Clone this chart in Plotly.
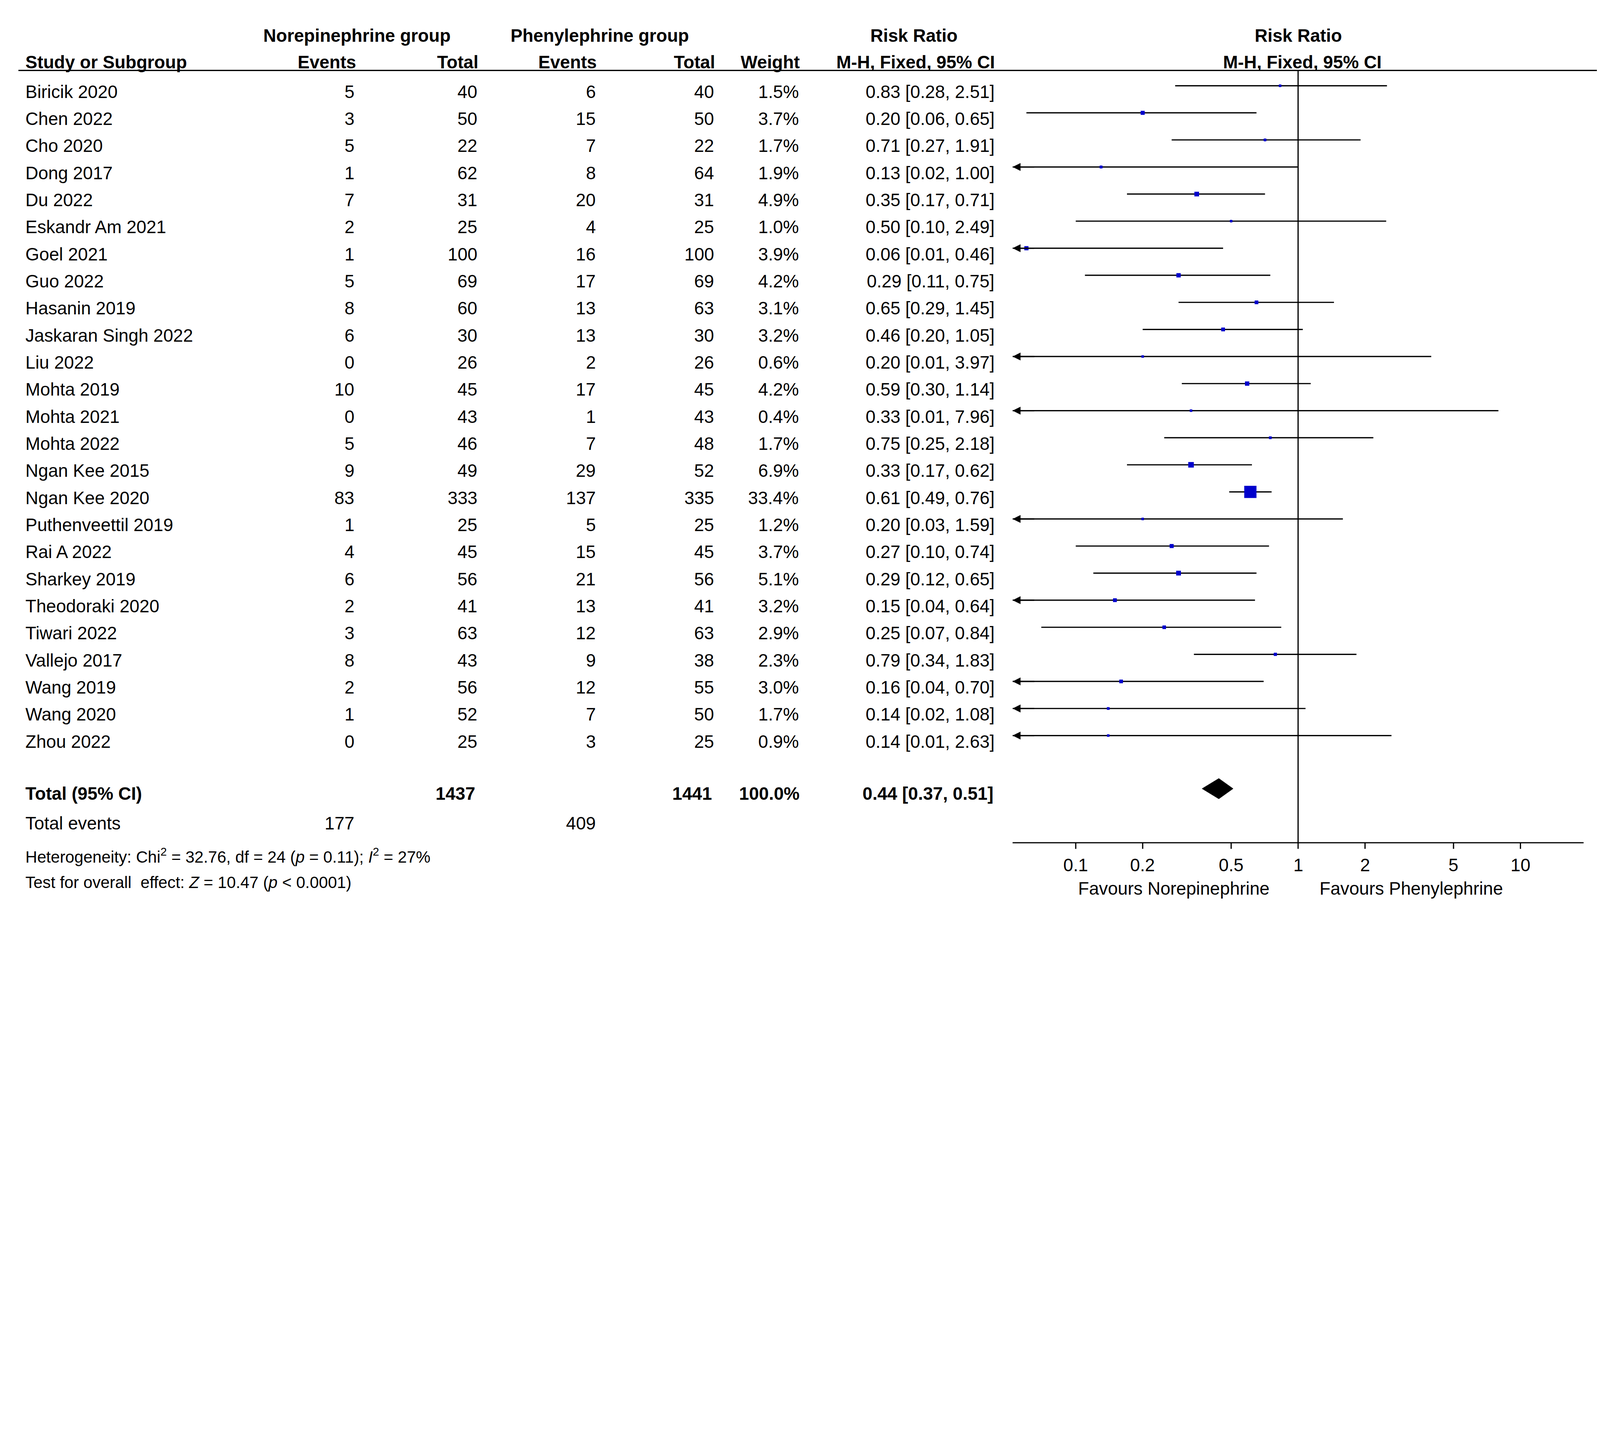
import numpy as np
import plotly.graph_objects as go

W, H = 4093, 2325
S = W / 1568  # reference display px -> figure px
FONT = "Liberation Sans"

studies = ["Biricik 2020", "Chen 2022", "Cho 2020", "Dong 2017", "Du 2022", "Eskandr Am 2021",
           "Goel 2021", "Guo 2022", "Hasanin 2019", "Jaskaran Singh 2022", "Liu 2022", "Mohta 2019",
           "Mohta 2021", "Mohta 2022", "Ngan Kee 2015", "Ngan Kee 2020", "Puthenveettil 2019",
           "Rai A 2022", "Sharkey 2019", "Theodoraki 2020", "Tiwari 2022", "Vallejo 2017",
           "Wang 2019", "Wang 2020", "Zhou 2022"]
ev1 = [5, 3, 5, 1, 7, 2, 1, 5, 8, 6, 0, 10, 0, 5, 9, 83, 1, 4, 6, 2, 3, 8, 2, 1, 0]
tot1 = [40, 50, 22, 62, 31, 25, 100, 69, 60, 30, 26, 45, 43, 46, 49, 333, 25, 45, 56, 41, 63, 43, 56, 52, 25]
ev2 = [6, 15, 7, 8, 20, 4, 16, 17, 13, 13, 2, 17, 1, 7, 29, 137, 5, 15, 21, 13, 12, 9, 12, 7, 3]
tot2 = [40, 50, 22, 64, 31, 25, 100, 69, 63, 30, 26, 45, 43, 48, 52, 335, 25, 45, 56, 41, 63, 38, 55, 50, 25]
weight = [1.5, 3.7, 1.7, 1.9, 4.9, 1.0, 3.9, 4.2, 3.1, 3.2, 0.6, 4.2, 0.4, 1.7, 6.9, 33.4, 1.2, 3.7,
          5.1, 3.2, 2.9, 2.3, 3.0, 1.7, 0.9]
rr = [0.83, 0.20, 0.71, 0.13, 0.35, 0.50, 0.06, 0.29, 0.65, 0.46, 0.20, 0.59, 0.33, 0.75, 0.33, 0.61,
      0.20, 0.27, 0.29, 0.15, 0.25, 0.79, 0.16, 0.14, 0.14]
lo = [0.28, 0.06, 0.27, 0.02, 0.17, 0.10, 0.01, 0.11, 0.29, 0.20, 0.01, 0.30, 0.01, 0.25, 0.17, 0.49,
      0.03, 0.10, 0.12, 0.04, 0.07, 0.34, 0.04, 0.02, 0.01]
hi = [2.51, 0.65, 1.91, 1.00, 0.71, 2.49, 0.46, 0.75, 1.45, 1.05, 3.97, 1.14, 7.96, 2.18, 0.62, 0.76,
      1.59, 0.74, 0.65, 0.64, 0.84, 1.83, 0.70, 1.08, 2.63]
total = dict(t1=1437, t2=1441, e1=177, e2=409, w="100.0%", rr=0.44, lo=0.37, hi=0.51)
ticks = [0.1, 0.2, 0.5, 1, 2, 5, 10]
tick_labels = ["0.1", "0.2", "0.5", "1", "2", "5", "10"]

XMIN, XMAX = 10 ** -1.284, 10 ** 1.284
y0, dy = 87, 26.54
rows = [y0 + i * dy for i in range(len(studies))]

fig = go.Figure()
ann = []


def txt(x, y, s, anchor="left", bold=False, size=17.5):
    ann.append(dict(x=x / 1568, y=y, xref="paper", yref="y", text=f"<b>{s}</b>" if bold else s,
                    showarrow=False, xanchor=anchor, yanchor="middle",
                    font=dict(family=FONT, size=size * S, color="black")))


# headers
txt(347, 32, "Norepinephrine group", "center", True)
txt(585, 32, "Phenylephrine group", "center", True)
txt(893, 32, "Risk Ratio", "center", True)
txt(1270, 32, "Risk Ratio", "center", True)
txt(21, 58, "Study or Subgroup", "left", True)
txt(347, 58, "Events", "right", True)
txt(467, 58, "Total", "right", True)
txt(583, 58, "Events", "right", True)
txt(699, 58, "Total", "right", True)
txt(782, 58, "Weight", "right", True)
txt(895, 58, "M-H, Fixed, 95% CI", "center", True)
txt(1274, 58, "M-H, Fixed, 95% CI", "center", True)

for i, y in enumerate(rows):
    txt(21, y, studies[i])
    txt(345, y, str(ev1[i]), "right")
    txt(466, y, str(tot1[i]), "right")
    txt(582, y, str(ev2[i]), "right")
    txt(698, y, str(tot2[i]), "right")
    txt(781, y, f"{weight[i]:.1f}%", "right")
    txt(973, y, f"{rr[i]:.2f} [{lo[i]:.2f}, {hi[i]:.2f}]", "right")

    a, b = max(lo[i], XMIN), min(hi[i], XMAX)
    fig.add_trace(go.Scatter(x=[a, b], y=[y - 6, y - 6], mode="lines", line=dict(color="black", width=1.2 * S),
                             showlegend=False, cliponaxis=False))
    if lo[i] < XMIN:
        ann.append(dict(x=np.log10(XMIN), y=y - 6, xref="x", yref="y", ax=np.log10(XMIN) + 0.1, ay=y - 6,
                        axref="x", ayref="y", showarrow=True, arrowhead=2, arrowsize=1.3,
                        arrowwidth=1.2 * S, arrowcolor="black", text=""))
    sz = max(2.5, 12 * np.sqrt(weight[i] / 33.4)) * S
    fig.add_trace(go.Scatter(x=[rr[i]], y=[y - 6], mode="markers",
                             marker=dict(symbol="square", size=sz, color="#0000cc", line=dict(width=0)),
                             showlegend=False))

yt = 775
txt(21, yt, "Total (95% CI)", "left", True)
txt(464, yt, str(total["t1"]), "right", True)
txt(696, yt, str(total["t2"]), "right", True)
txt(782, yt, total["w"], "right", True)
txt(972, yt, f"{total['rr']:.2f} [{total['lo']:.2f}, {total['hi']:.2f}]", "right", True)
txt(21, 804, "Total events")
txt(345, 804, str(total["e1"]), "right")
txt(582, 804, str(total["e2"]), "right")
txt(21, 836, "Heterogeneity: Chi<sup>2</sup> = 32.76, df = 24 (<i>p</i> = 0.11); <i>I</i><sup>2</sup> = 27%", size=16)
txt(21, 862, "Test for overall  effect: <i>Z</i> = 10.47 (<i>p</i> &lt; 0.0001)", size=16)
txt(1148, 868, "Favours Norepinephrine", "center")
txt(1381, 868, "Favours Phenylephrine", "center")

# diamond
fig.add_trace(go.Scatter(x=[total["lo"], total["rr"], total["hi"], total["rr"], total["lo"]],
                         y=[yt - 5, yt - 15, yt - 5, yt + 5, yt - 5], mode="lines", fill="toself",
                         fillcolor="black", line=dict(color="black", width=1), showlegend=False))
# null line
fig.add_trace(go.Scatter(x=[1, 1], y=[66, 823], mode="lines", line=dict(color="black", width=1.2 * S),
                         showlegend=False))

shapes = [dict(type="line", xref="paper", yref="y", x0=15 / 1568, x1=1, y0=66, y1=66,
               line=dict(color="black", width=1.3 * S)),
          dict(type="line", xref="paper", yref="y", x0=990 / 1568, x1=1550 / 1568, y0=823, y1=823,
               line=dict(color="black", width=1.2 * S))]
for t, lab in zip(ticks, tick_labels):
    shapes.append(dict(type="line", xref="x", yref="y", x0=t, x1=t, y0=823, y1=829,
                       line=dict(color="black", width=1.2 * S)))
    ann.append(dict(x=np.log10(t), y=845, xref="x", yref="y", text=lab, showarrow=False,
                    font=dict(family=FONT, size=17.5 * S, color="black")))

fig.update_layout(
    width=W, height=H, plot_bgcolor="white", paper_bgcolor="white",
    margin=dict(l=0, r=0, t=0, b=0),
    annotations=ann, shapes=shapes,
    xaxis=dict(type="log", domain=[990 / 1568, 1550 / 1568], range=[-1.284, 1.284],
               showticklabels=False, ticks="", showgrid=False, zeroline=False, showline=False),
    yaxis=dict(range=[890, 0], domain=[0, 1], visible=False, showgrid=False, zeroline=False),
)

fig.write_html("out.html")
